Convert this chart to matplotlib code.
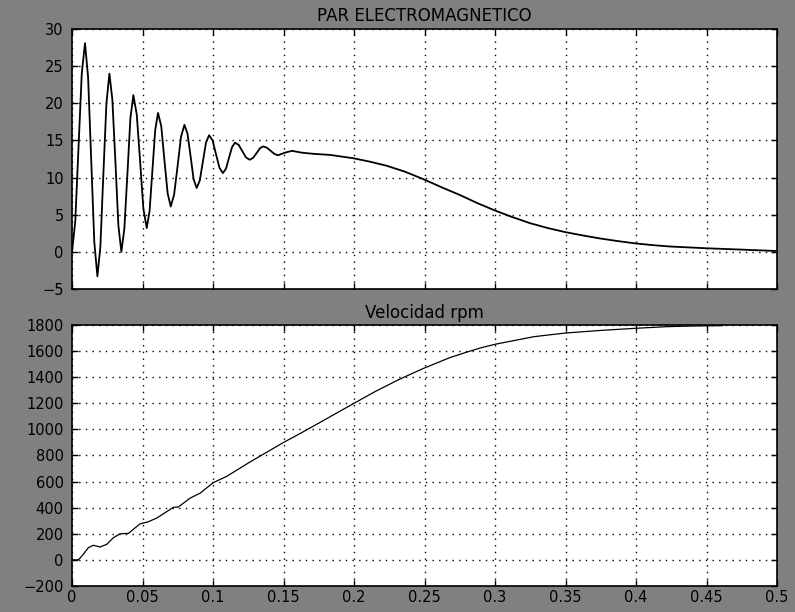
import matplotlib
matplotlib.use("Agg")
import matplotlib.pyplot as plt

# torque (par electromagnetico)
t_par = [0.0, 0.0023, 0.0046, 0.0069, 0.0092,
         0.0114, 0.0136, 0.0158, 0.018,
         0.0201, 0.0222, 0.0244, 0.0265,
         0.0286, 0.0308, 0.0329, 0.035,
         0.0371, 0.0393, 0.0414, 0.0435,
         0.0459, 0.0483, 0.0506, 0.053,
         0.055, 0.057, 0.059, 0.061,
         0.0633, 0.0655, 0.0678, 0.070,
         0.0724, 0.0749, 0.0773, 0.0797,
         0.0819, 0.0841, 0.0862, 0.0884,
         0.0906, 0.0928, 0.095, 0.0972,
         0.0997, 0.1021, 0.1046, 0.107,
         0.1092, 0.1113, 0.1135, 0.1156,
         0.1182, 0.1208, 0.1234, 0.126,
         0.1284, 0.1309, 0.1333, 0.1357,
         0.1383, 0.1409, 0.1434, 0.146,
         0.151, 0.156, 0.163, 0.171, 0.183, 0.1995, 0.211, 0.223, 0.236,
         0.249, 0.262, 0.275, 0.287, 0.2995, 0.312, 0.325, 0.3375, 0.35,
         0.3625, 0.3745, 0.387, 0.399, 0.412, 0.424, 0.45, 0.475, 0.4986]
par = [0.0, 4.1, 14.05, 24.0, 28.1,
       23.5, 12.4, 1.3, -3.3,
       0.7, 10.35, 20.0, 24.0,
       20.5, 12.0, 3.5, 0.0,
       3.1, 10.55, 18.0, 21.1,
       18.5, 12.15, 5.8, 3.2,
       5.5, 10.95, 16.4, 18.7,
       16.9, 12.4, 7.9, 6.1,
       7.7, 11.6, 15.5, 17.1,
       15.9, 12.85, 9.8, 8.6,
       9.6, 12.15, 14.7, 15.7,
       15.0, 13.15, 11.3, 10.6,
       11.2, 12.65, 14.1, 14.7,
       14.4, 13.55, 12.7, 12.4,
       12.65, 13.3, 13.95, 14.2,
       14.0, 13.6, 13.2, 13.0,
       13.35, 13.6, 13.35, 13.2, 13.05, 12.6, 12.15, 11.6, 10.8,
       9.8, 8.7, 7.66, 6.6, 5.6, 4.7, 3.85, 3.2, 2.65,
       2.2, 1.8, 1.45, 1.15, 0.9, 0.72, 0.48, 0.3, 0.12]

# speed in rpm
t_vel = [0.0, 0.0033, 0.005, 0.008, 0.0116, 0.0151, 0.0199, 0.0246, 0.0293,
         0.034, 0.040, 0.0447, 0.0482, 0.054, 0.060, 0.0672, 0.0719, 0.0754,
         0.0837, 0.0908, 0.1002, 0.1097, 0.1262, 0.15, 0.1617, 0.175,
         0.2, 0.215, 0.2326, 0.2494, 0.268, 0.28, 0.29, 0.3, 0.3274, 0.3496,
         0.3745, 0.399, 0.4217, 0.44, 0.4615]
vel = [0, 0, 5, 43, 94, 112, 99, 119, 170,
       200, 203, 245, 276, 292, 320, 370, 403, 405,
       473, 511, 592, 640, 750, 900, 968, 1048,
       1200, 1290, 1386, 1468, 1550, 1592, 1625, 1652, 1710, 1738,
       1758, 1774, 1787, 1792, 1795]

xticks = [0, 0.05, 0.1, 0.15, 0.2, 0.25, 0.3, 0.35, 0.4, 0.45, 0.5]
xlabels = ["0", "0.05", "0.1", "0.15", "0.2", "0.25", "0.3", "0.35", "0.4", "0.45", "0.5"]

plt.rcParams['font.family'] = 'DejaVu Sans'
fig = plt.figure(figsize=(7.95, 6.12), dpi=100, facecolor='#808080')

ax1 = fig.add_axes([0.0906, 0.5278, 0.8868, 0.4248])
ax2 = fig.add_axes([0.0906, 0.0425, 0.8868, 0.4265])

ax1.plot(t_par, par, color='black', lw=1.3)
ax2.plot(t_vel, vel, color='black', lw=0.9)

ax1.set_ylim(-5, 30)
ax1.set_yticks(range(-5, 31, 5))
ax2.set_ylim(-200, 1800)
ax2.set_yticks(range(-200, 1801, 200))

for ax in (ax1, ax2):
    ax.set_facecolor('white')
    ax.set_xlim(0, 0.5)
    ax.set_xticks(xticks)
    ax.grid(True, color='black', linestyle=(0, (1, 3.8)), linewidth=1.0)
    ax.tick_params(direction='in', length=4, width=1, top=True, right=True,
                   labelsize=10.5, colors='black', pad=6)
    for s in ax.spines.values():
        s.set_linewidth(1.2)
        s.set_color('black')

ax1.set_xticklabels([])
ax2.set_xticklabels(xlabels)
ax2.tick_params(axis='x', pad=3)

ax1.set_title('PAR ELECTROMAGNETICO', fontsize=12, pad=6)
ax2.set_title('Velocidad rpm', fontsize=12, pad=5)

fig.savefig('out.png', dpi=100, facecolor=fig.get_facecolor())
